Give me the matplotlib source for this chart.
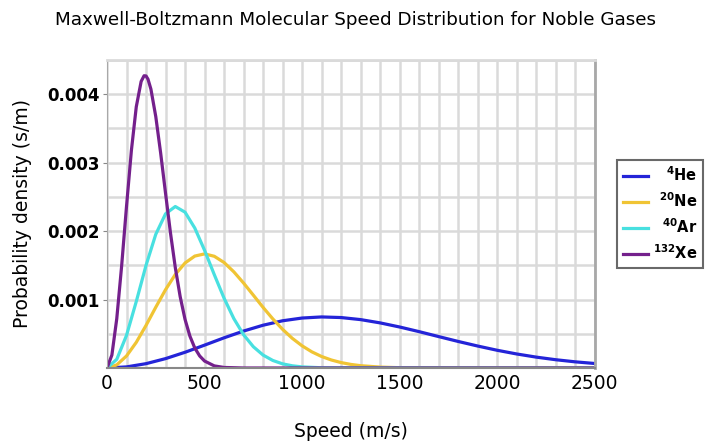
import matplotlib
matplotlib.use("Agg")
import matplotlib.pyplot as plt
from matplotlib.ticker import MultipleLocator

# values (speed in m/s, density in s/m)
he_speed = [0, 100, 200, 300, 400, 500, 600, 700, 800, 900, 1000, 1100, 1200,
            1300, 1400, 1500, 1600, 1700, 1800, 1900, 2000, 2100, 2200, 2300,
            2400, 2500]
he_density = [0, 0.0000162, 0.0000634, 0.000137, 0.000230, 0.000334, 0.000441,
              0.000540, 0.000625, 0.000690, 0.000730, 0.000746, 0.000737,
              0.000707, 0.000659, 0.000599, 0.000531, 0.000459, 0.000388,
              0.000321, 0.000259, 0.000205, 0.000159, 0.000121, 0.0000901,
              0.0000659]

ne_speed = [0, 50, 100, 150, 200, 250, 300, 350, 400, 450, 500, 550, 600, 650,
            700, 750, 800, 850, 900, 950, 1000, 1050, 1100, 1150, 1200, 1250,
            1300, 1400, 1500, 2500]
ne_density = [0, 0.0000452, 0.000176, 0.000375, 0.000622, 0.000888, 0.001144,
              0.001366, 0.001534, 0.001635, 0.001667, 0.001632, 0.001541,
              0.001405, 0.001241, 0.001064, 0.000885, 0.000717, 0.000565,
              0.000433, 0.000324, 0.000236, 0.000168, 0.000117, 0.0000792,
              0.0000525, 0.0000339, 0.0000133, 0.0000047, 0]

ar_speed = [0, 50, 100, 150, 200, 250, 300, 350, 400, 450, 500, 550, 600, 650,
            700, 750, 800, 850, 900, 950, 1000, 1100, 2500]
ar_density = [0, 0.0001268, 0.000477, 0.000971, 0.001499, 0.001953, 0.002252,
              0.002359, 0.002276, 0.002044, 0.001720, 0.001363, 0.001020,
              0.000722, 0.000486, 0.000311, 0.000189, 0.000110, 0.0000607,
              0.0000321, 0.0000162, 0.0000036, 0]

xe_speed = [0, 25, 50, 75, 100, 125, 150, 175, 190, 200, 210, 225, 250, 275,
            300, 325, 350, 375, 400, 425, 450, 475, 500, 550, 600, 700, 2500]
xe_density = [0, 0.000189, 0.000720, 0.001491, 0.002361, 0.003178, 0.003815,
              0.004186, 0.004269, 0.004266, 0.004219, 0.004074, 0.003672,
              0.003139, 0.002553, 0.001980, 0.001468, 0.001043, 0.000710,
              0.000465, 0.000292, 0.000176, 0.000102, 0.0000308, 0.0000080,
              0.0000002, 0]

labels = [r"$^{4}$He", r"$^{20}$Ne", r"$^{40}$Ar", r"$^{132}$Xe"]
colors = ["#2424d8", "#f0c434", "#48e0e0", "#74208c"]

plt.rcParams["mathtext.default"] = "bf"

fig = plt.figure(figsize=(7.11, 4.42), dpi=100)
ax = fig.add_axes([0.1505, 0.1674, 0.686, 0.697])

series = [(he_speed, he_density), (ne_speed, ne_density),
          (ar_speed, ar_density), (xe_speed, xe_density)]
for (x, y), lab, col in zip(series, labels, colors):
    ax.plot(x, y, color=col, lw=2.3, label=lab, solid_joinstyle="round")

ax.set_xlim(0, 2500)
ax.set_ylim(0, 0.0045)
ax.xaxis.set_major_locator(MultipleLocator(500))
ax.xaxis.set_minor_locator(MultipleLocator(100))
ax.yaxis.set_major_locator(MultipleLocator(0.001))
ax.yaxis.set_minor_locator(MultipleLocator(0.0005))
ax.grid(True, which="both", color="#dadada", lw=1.8)
ax.set_axisbelow(True)
ax.tick_params(which="minor", length=0)
ax.tick_params(axis="x", which="major", length=0, labelsize=13.5, pad=4)
ax.tick_params(axis="y", which="major", length=3, color="#888888", pad=2)
ax.set_yticks([0.001, 0.002, 0.003, 0.004])
ax.set_yticklabels(["0.001", "0.002", "0.003", "0.004"], fontweight="bold",
                   fontsize=12)
ax.spines["top"].set_color("#dadada")
ax.spines["top"].set_linewidth(2)
ax.spines["right"].set_color("#a8a8a8")
ax.spines["right"].set_linewidth(2)
ax.spines["left"].set_color("#a8a8a8")
ax.spines["bottom"].set_color("#888888")
ax.spines["bottom"].set_linewidth(1.5)

ax.set_xlabel("Speed (m/s)", fontsize=13.5, labelpad=21)
ax.set_ylabel("Probability density (s/m)", fontsize=13.5, labelpad=11)
fig.suptitle("Maxwell-Boltzmann Molecular Speed Distribution for Noble Gases",
             fontsize=13.2, y=0.975)

leg = ax.legend(loc="center left", bbox_to_anchor=(1.045, 0.5),
                prop={"size": 10.5, "weight": "bold"},
                frameon=True, fancybox=False, edgecolor="#444444",
                handlelength=1.75, borderpad=0.4, labelspacing=0.5,
                handletextpad=0.35, borderaxespad=0)
leg.get_frame().set_linewidth(1.5)

# right-align the legend labels like the reference
fig.canvas.draw()
renderer = fig.canvas.get_renderer()
widths = [t.get_window_extent(renderer).width for t in leg.get_texts()]
for t, w in zip(leg.get_texts(), widths):
    t.set_x(max(widths) - w)

fig.savefig("out.png", dpi=100)
